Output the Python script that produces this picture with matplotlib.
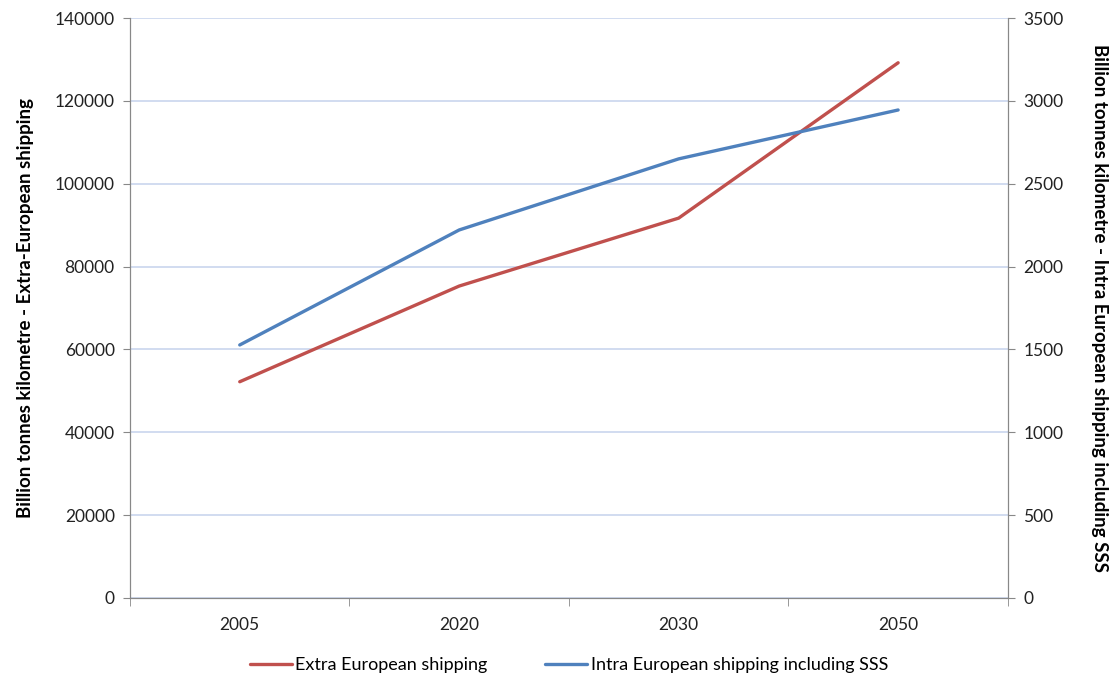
import numpy as np
import matplotlib.pyplot as plt

years = ['2005', '2020', '2030', '2050']
extra_eu = [52200, 75300, 91700, 129200]
intra_eu = [1527, 2221, 2650, 2945]

plt.rcParams['font.family'] = ['Lato', 'DejaVu Sans']

fig = plt.figure(figsize=(11.16, 6.8), dpi=100)
ax = fig.add_axes([0.1165, 0.1206, 0.7866, 0.8529])
ax2 = ax.twinx()

x = np.arange(len(years))
ax.plot(x, extra_eu, color='#c0504d', lw=2.4, solid_capstyle='round', label='Extra European shipping', zorder=3)
ax2.plot(x, intra_eu, color='#4f81bd', lw=2.4, solid_capstyle='round', label='Intra European shipping including SSS', zorder=3)

ax.set_xlim(-0.5, len(years) - 0.5)
ax.set_ylim(0, 140000)
ax2.set_ylim(0, 3500)
ax.set_yticks(np.arange(0, 140001, 20000))
ax2.set_yticks(np.arange(0, 3501, 500))

ax.set_xticks(x)
ax.set_xticklabels(years)
ax.set_xticks(np.arange(-0.5, len(years), 1), minor=True)
ax.tick_params(axis='x', which='major', length=0, pad=14, labelsize=12.5, colors='#222222')
ax.tick_params(axis='x', which='minor', length=6, color='#888888', direction='out')
ax.tick_params(axis='y', length=5, color='#888888', labelsize=12.5, labelcolor='#222222', pad=6)
ax2.tick_params(axis='y', length=5, color='#888888', labelsize=12.5, labelcolor='#222222', pad=6)

ax.yaxis.grid(True, color='#c9d6ee', lw=1.2)
ax.set_axisbelow(True)

for a in (ax, ax2):
    a.spines['top'].set_visible(False)
    for s in ('left', 'right', 'bottom'):
        a.spines[s].set_color('#888888')
ax.patch.set_visible(False)

ax.set_ylabel('Billion tonnes kilometre - Extra-European shipping', fontsize=13.5, fontweight='bold', labelpad=15)
ax2.set_ylabel('Billion tonnes kilometre - Intra European shipping including SSS', fontsize=13.5,
               fontweight='bold', rotation=270, labelpad=32)

h1, l1 = ax.get_legend_handles_labels()
h2, l2 = ax2.get_legend_handles_labels()
fig.legend(h1 + h2, l1 + l2, loc='center', bbox_to_anchor=(0.51, 0.022), ncol=2, frameon=False,
           fontsize=13, handlelength=2.3, columnspacing=3.2, handletextpad=0.2)

fig.savefig('out.png', dpi=100)
